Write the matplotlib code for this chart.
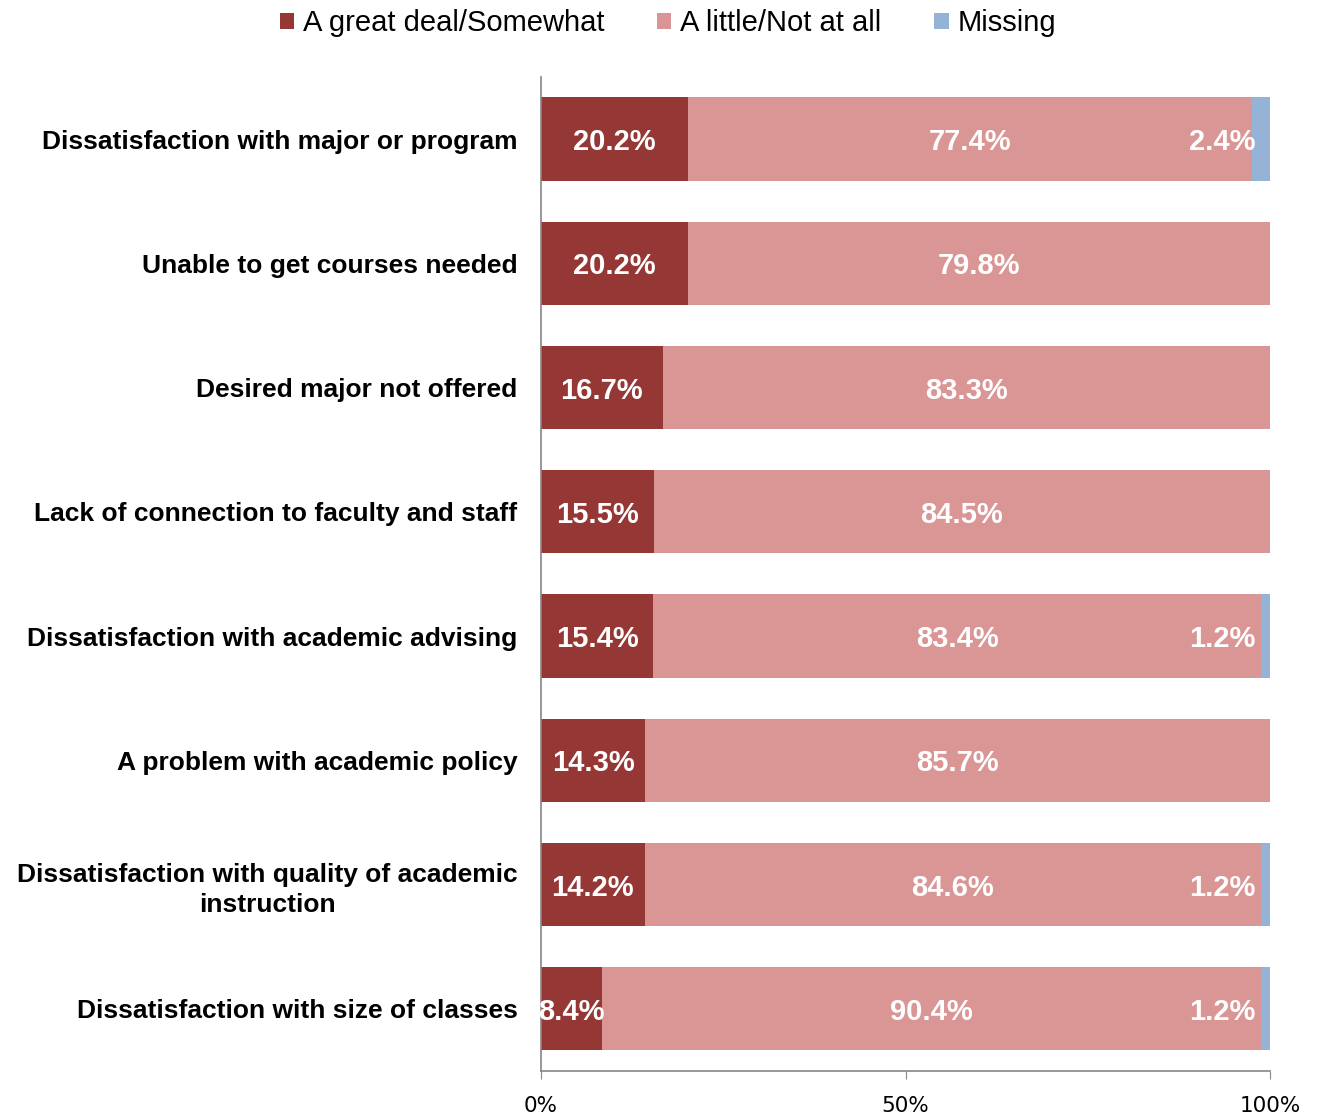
import matplotlib.pyplot as plt
import numpy as np

# data
categories = ['Dissatisfaction with major or program',
              'Unable to get courses needed',
              'Desired major not offered',
              'Lack of connection to faculty and staff',
              'Dissatisfaction with academic advising',
              'A problem with academic policy',
              'Dissatisfaction with quality of academic\ninstruction',
              'Dissatisfaction with size of classes']
great_deal = [20.2, 20.2, 16.7, 15.5, 15.4, 14.3, 14.2, 8.4]
little = [77.4, 79.8, 83.3, 84.5, 83.4, 85.7, 84.6, 90.4]
missing = [2.4, 0, 0, 0, 1.2, 0, 1.2, 1.2]
series_names = ['A great deal/Somewhat', 'A little/Not at all', 'Missing']
colors = ['#953735', '#D99694', '#95B3D7']

great_deal = np.array(great_deal)
little = np.array(little)
missing = np.array(missing)
y = np.arange(len(categories))

fig = plt.figure(figsize=(13.17, 11.19), dpi=100)
ax = fig.add_axes([0.4108, 0.0429, 0.5535, 0.8883])

h = 0.67
b1 = ax.barh(y, great_deal, height=h, color=colors[0], label=series_names[0])
b2 = ax.barh(y, little, left=great_deal, height=h, color=colors[1], label=series_names[1])
b3 = ax.barh(y, missing, left=great_deal + little, height=h, color=colors[2], label=series_names[2])

lbl = dict(color='white', fontsize=21, fontweight='bold', family='Liberation Sans', va='center_baseline')
for i in range(len(categories)):
    ax.text(great_deal[i] / 2, y[i], f'{great_deal[i]:.1f}%', ha='center', **lbl)
    ax.text(great_deal[i] + little[i] / 2, y[i], f'{little[i]:.1f}%', ha='center', **lbl)
    if missing[i] > 0:
        ax.text(98, y[i], f'{missing[i]:.1f}%', ha='right', **lbl)

ax.set_xlim(0, 100)
ax.set_ylim(len(categories) - 0.5, -0.5)
ax.set_yticks(y)
ax.set_yticklabels(categories, fontsize=19, fontweight='bold', family='Liberation Sans',
                   multialignment='center', linespacing=1.3)
ax.tick_params(axis='y', length=0, pad=17)
ax.set_xticks([0, 50, 100])
ax.set_xticklabels(['0%', '50%', '100%'], fontsize=15.5)
ax.tick_params(axis='x', length=5.8, color='#868686', pad=12)

for s in ['top', 'right']:
    ax.spines[s].set_visible(False)
for s in ['left', 'bottom']:
    ax.spines[s].set_color('#868686')
    ax.spines[s].set_linewidth(1.2)

fig.legend(handles=[b1, b2, b3], loc='center', bbox_to_anchor=(0.507, 0.979), ncol=3,
           frameon=False, prop={'family': 'Liberation Sans', 'size': 21},
           handlelength=0.5, handleheight=0.5, handletextpad=0.3, columnspacing=1.8)

plt.savefig('out.png', dpi=100)
